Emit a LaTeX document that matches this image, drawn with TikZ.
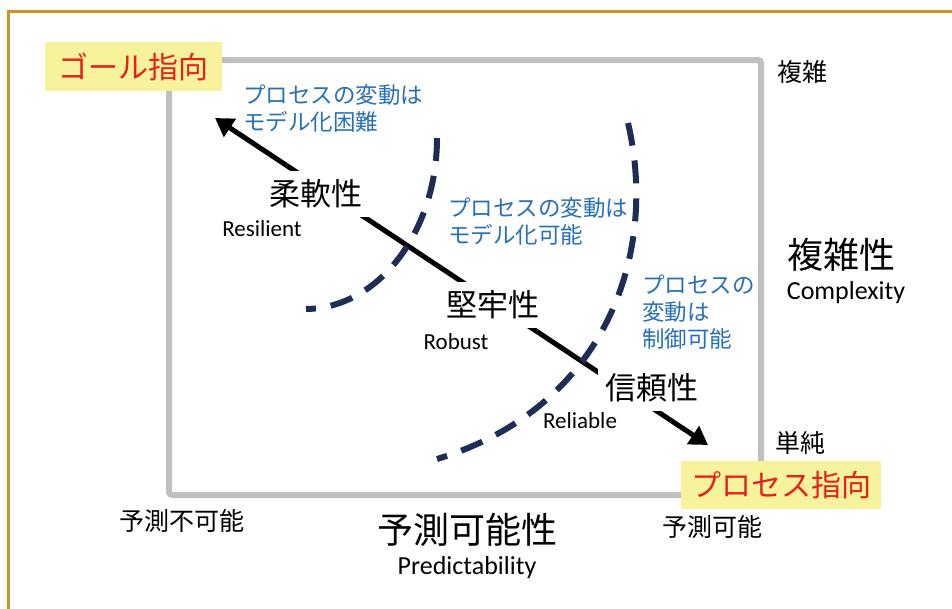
\documentclass[tikz,border=0pt]{standalone}
\usepackage{fontspec}
\setmainfont{Noto Sans CJK JP}
\newfontfamily\latinf{Carlito}
\usetikzlibrary{arrows.meta}
\definecolor{framegold}{RGB}{200,150,40}
\definecolor{boxgray}{RGB}{192,192,192}
\definecolor{navyd}{RGB}{31,45,85}
\definecolor{noteblue}{RGB}{40,112,180}
\definecolor{hlyellow}{RGB}{247,242,156}
\definecolor{redtxt}{RGB}{232,32,28}
\begin{document}
\begin{tikzpicture}[x=1pt,y=-1pt,
  quality/.style={font=\fontsize{31}{31}\selectfont, fill=white, minimum width=108pt, minimum height=46pt, inner sep=0pt},
  entag/.style={font=\latinf\fontsize{23}{23}\selectfont, inner sep=0pt},
  entagbig/.style={font=\latinf\fontsize{26}{26}\selectfont, inner sep=0pt},
  axissmall/.style={font=\fontsize{25}{25}\selectfont, inner sep=0pt},
  axisbig/.style={font=\fontsize{36}{36}\selectfont, inner sep=0pt},
  note/.style={font=\fontsize{22.5}{27}\selectfont, text=noteblue, align=left, inner sep=0pt, anchor=west},
  orient/.style={fill=hlyellow, text=redtxt, font=\fontsize{30}{30}\selectfont, inner sep=0pt},
  boundary/.style={draw=navyd, line width=6pt, dash pattern=on 23pt off 15pt},
  trend/.style={line width=5pt, {Triangle[length=18pt,width=21pt]}-{Triangle[length=18pt,width=21pt]}}
]
\useasboundingbox (0,0) rectangle (952,608);
\clip (0,0) rectangle (952,608);
% outer frame
\draw[framegold, line width=3pt] (8.5,640) |- (980,11.5);
% gray box
\draw[boxgray, line width=6pt, rounded corners=3pt] (169,60) rectangle (761,495);
% orientation labels
\node[orient, minimum width=177pt, minimum height=49pt] (goal) at (133.5,66.5) {ゴール指向};
\node[orient, minimum width=200pt, minimum height=48pt] (proc) at (781,485) {プロセス指向};
% trend arrow
\coordinate (gEnd) at (215,118);
\coordinate (pEnd) at (708,445);
\draw[trend] (gEnd) -- (pEnd);
% qualities
\node[quality] (flex) at (316,194) {柔軟性};
\node[quality] (rob) at (493,305) {堅牢性};
\node[quality] (rel) at (652,388) {信頼性};
\node[entag] (resl) at (262,229) {Resilient};
\node[entag] (robe) at (456,342) {Robust};
\node[entag] (rele) at (580,421) {Reliable};
% boundaries
\draw[boundary] (437,138) .. controls (437,230) and (380,308) .. (306,309);
\draw[boundary] (628,123) .. controls (660,260) and (600,410) .. (437,459);
% notes
\node[note] (n1) at (243,108.5) {プロセスの変動は\\モデル化困難};
\node[note] (n2) at (448,221.5) {プロセスの変動は\\モデル化可能};
\node[note] (n3) at (642,312.5) {プロセスの\\変動は\\制御可能};
% axes
\node[axissmall] (cplx) at (802,72) {複雑};
\node[axissmall] (simp) at (800,443) {単純};
\node[axissmall] (unpred) at (182,521) {予測不可能};
\node[axissmall] (pred) at (712,527) {予測可能};
\node[axisbig] (cplxt) at (841,255) {複雑性};
\node[entagbig] (cplxe) at (846,293) {Complexity};
\node[axisbig] (predt) at (467,530) {予測可能性};
\node[entagbig] (prede) at (467,568) {Predictability};
\end{tikzpicture}
\end{document}
